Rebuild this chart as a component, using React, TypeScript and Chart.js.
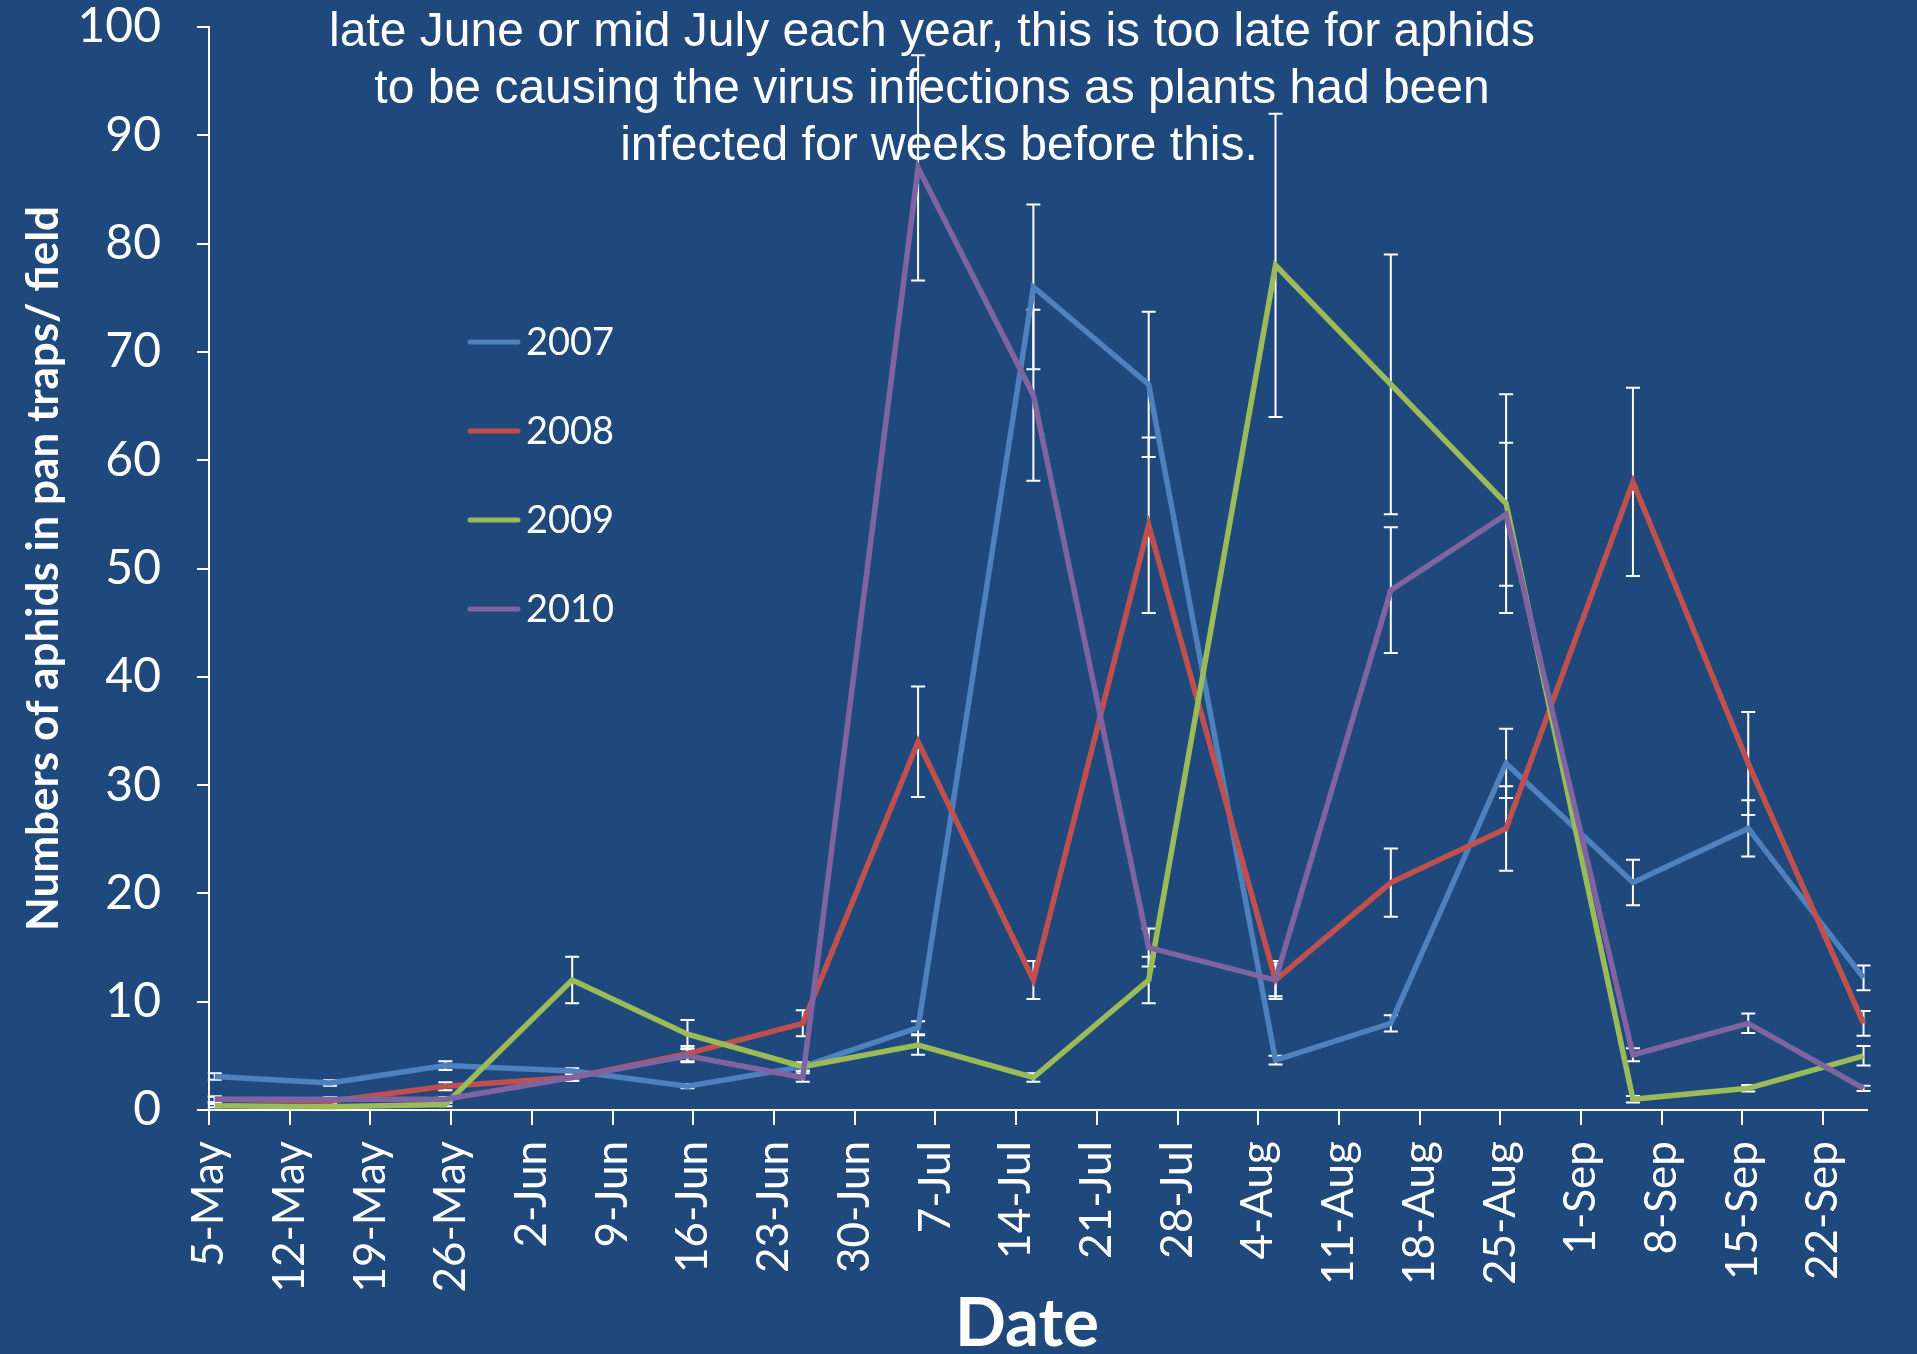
import React, { useEffect, useRef } from "react";
import { Chart, registerables } from "chart.js";

Chart.register(...registerables);

// ---- data ----
const tickLabels = [
  "5-May", "12-May", "19-May", "26-May", "2-Jun", "9-Jun", "16-Jun", "23-Jun", "30-Jun",
  "7-Jul", "14-Jul", "21-Jul", "28-Jul", "4-Aug", "11-Aug", "18-Aug", "25-Aug",
  "1-Sep", "8-Sep", "15-Sep", "22-Sep",
];
const sampleDates = [
  "5-May", "15-May", "25-May", "5-Jun", "15-Jun", "25-Jun", "5-Jul", "15-Jul",
  "25-Jul", "5-Aug", "15-Aug", "25-Aug", "5-Sep", "15-Sep", "25-Sep",
];
const seriesLabels = ["2007", "2008", "2009", "2010"];
const seriesColors = ["#4F81BD", "#C0504D", "#9BBB59", "#8064A2"];

const values2007 = [3.1, 2.5, 4.1, 3.6, 2.2, 4.0, 7.6, 76, 67, 4.6, 8.0, 32, 21, 26, 12.2];
const values2008 = [1.0, 0.8, 2.2, 3.0, 5.2, 8.0, 34, 12, 54, 12, 21, 26, 58, 32, 8];
const values2009 = [0.4, 0.3, 0.5, 12, 7, 4, 6, 3, 12, 78, 67, 56, 1, 2, 5];
const values2010 = [1.0, 1.0, 1.0, 3.0, 5.0, 3.0, 87, 66, 15, 12, 48, 55, 5.1, 8, 2];

const errors2007 = [0.3, 0.25, 0.4, 0.25, 0.2, 0.4, 0.6, 7.6, 6.7, 0.4, 0.75, 3.2, 2.1, 2.6, 1.15];
const errors2008 = [0.25, 0.2, 0.37, 0.3, 0.7, 1.2, 5.1, 1.75, 8.1, 1.75, 3.15, 3.9, 8.7, 4.75, 1.15];
const errors2009 = [0.15, 0.1, 0.15, 2.15, 1.3, 0.35, 0.9, 0.4, 2.15, 14, 12, 10.1, 0.3, 0.3, 0.9];
const errors2010 = [0.25, 0.2, 0.2, 0.3, 0.6, 0.4, 10.4, 7.9, 1.75, 1.5, 5.8, 6.6, 0.6, 0.9, 0.25];

const noteLines = [
  "late June or mid July each year, this is too late for aphids",
  "to be causing the virus infections as plants had been",
  "infected for weeks before this.",
];

const yAxisTitle = "Numbers of aphids in pan traps/ field";
const xAxisTitle = "Date";

// ---- helpers ----
const MONTH_START: Record<string, number> = { May: -5, Jun: 26, Jul: 56, Aug: 87, Sep: 118 };
function dayOffset(label: string): number {
  const [d, m] = label.split("-");
  return MONTH_START[m] + Number(d);
}

const W = 1917;
const H = 1354;
const BG = "#1F497D";

const allValues = [values2007, values2008, values2009, values2010];
const allErrors = [errors2007, errors2008, errors2009, errors2010];

const errorBarPlugin = {
  id: "errorBars",
  beforeDatasetsDraw(chart: any) {
    const ctx = chart.ctx;
    const yScale = chart.scales.y;
    ctx.save();
    ctx.strokeStyle = "#ffffff";
    ctx.lineWidth = 2;
    chart.data.datasets.forEach((ds: any, di: number) => {
      const meta = chart.getDatasetMeta(di);
      meta.data.forEach((pt: any, i: number) => {
        const v = ds.data[i].y;
        const e = ds.errors[i];
        const top = yScale.getPixelForValue(v + e);
        const bot = yScale.getPixelForValue(Math.max(0, v - e));
        const x = pt.x;
        ctx.beginPath();
        ctx.moveTo(x, top);
        ctx.lineTo(x, bot);
        ctx.moveTo(x - 7, top);
        ctx.lineTo(x + 7, top);
        ctx.moveTo(x - 7, bot);
        ctx.lineTo(x + 7, bot);
        ctx.stroke();
      });
    });
    ctx.restore();
  },
};

const overlayPlugin = {
  id: "overlay",
  afterDraw(chart: any) {
    const ctx = chart.ctx;
    const area = chart.chartArea;
    ctx.save();
    // legend
    ctx.font = "38px Lato";
    ctx.textBaseline = "middle";
    ctx.textAlign = "left";
    chart.data.datasets.forEach((ds: any, i: number) => {
      const cy = 342 + i * 89;
      ctx.strokeStyle = ds.borderColor;
      ctx.lineWidth = 5;
      ctx.lineCap = "round";
      ctx.beginPath();
      ctx.moveTo(470, cy);
      ctx.lineTo(518, cy);
      ctx.stroke();
      ctx.fillStyle = "#ffffff";
      ctx.fillText(ds.label, 526, cy + 1);
    });
    // note text
    ctx.font = "48px 'Liberation Sans', Arial, sans-serif";
    ctx.textAlign = "center";
    ctx.textBaseline = "alphabetic";
    ctx.fillStyle = "#ffffff";
    noteLines.forEach((line, i) => {
      ctx.fillText(line, i === 2 ? 939 : 932, 46 + i * 57);
    });
    // x axis title
    ctx.font = "bold 67px Lato";
    ctx.textBaseline = "middle";
    ctx.fillText(xAxisTitle, (area.left + area.right) / 2 - 11, 1324);
    ctx.restore();
  },
};

export default function App() {
  const canvasRef = useRef<HTMLCanvasElement | null>(null);

  useEffect(() => {
    document.body.style.margin = "0";
    document.body.style.background = BG;
    const canvas = canvasRef.current;
    if (!canvas) return;

    const datasets = seriesLabels.map((label, si) => ({
      label,
      data: sampleDates.map((d, i) => ({ x: dayOffset(d) + 0.5, y: allValues[si][i] })),
      errors: allErrors[si],
      borderColor: seriesColors[si],
      backgroundColor: seriesColors[si],
      borderWidth: 5.5,
      pointRadius: 0,
      tension: 0,
      fill: false,
      order: seriesLabels.length - si,
      borderJoinStyle: "miter" as const,
    }));

    const chart = new Chart(canvas, {
      type: "line",
      data: { datasets },
      plugins: [errorBarPlugin, overlayPlugin],
      options: {
        animation: false,
        responsive: false,
        devicePixelRatio: 1,
        layout: { padding: { top: 27, right: 50, left: 0, bottom: 0 } },
        plugins: {
          legend: { display: false },
          tooltip: { enabled: false },
        },
        scales: {
          x: {
            type: "linear",
            min: 0,
            max: 143.8,
            afterFit(scale: any) {
              scale.height = H - 1110;
              scale.paddingLeft = 10;
              scale.paddingRight = 10;
            },
            ticks: {
              stepSize: 7,
              includeBounds: false,
              autoSkip: false,
              minRotation: 90,
              maxRotation: 90,
              padding: 16,
              color: "#ffffff",
              font: { family: "Lato", size: 44 },
              callback: (value: any) => {
                const idx = Math.round(Number(value) / 7);
                return tickLabels[idx] ?? "";
              },
            },
            grid: {
              display: true,
              drawOnChartArea: false,
              drawTicks: true,
              tickLength: 15,
              color: "#ffffff",
              lineWidth: 2,
            },
            border: { display: true, color: "#ffffff", width: 2 },
            title: { display: false, text: xAxisTitle },
          },
          y: {
            type: "linear",
            min: 0,
            max: 100,
            afterFit(scale: any) {
              scale.width = 209;
              scale.paddingTop = 10;
              scale.paddingBottom = 10;
            },
            ticks: {
              stepSize: 10,
              padding: 36,
              color: "#ffffff",
              font: { family: "Lato", size: 48, lineHeight: 1 },
            },
            grid: {
              display: true,
              drawOnChartArea: false,
              drawTicks: true,
              tickLength: 12,
              color: "#ffffff",
              lineWidth: 2,
            },
            border: { display: true, color: "#ffffff", width: 2 },
            title: {
              display: true,
              text: yAxisTitle,
              color: "#ffffff",
              font: { family: "Lato", size: 44, weight: "bold", lineHeight: 1.2 },
              padding: { top: 17, bottom: 0 },
            },
          },
        },
      } as any,
    });

    return () => chart.destroy();
  }, []);

  return (
    <div style={{ width: W, height: H, background: BG }}>
      <canvas ref={canvasRef} width={W} height={H} style={{ display: "block", width: W, height: H }} />
    </div>
  );
}
